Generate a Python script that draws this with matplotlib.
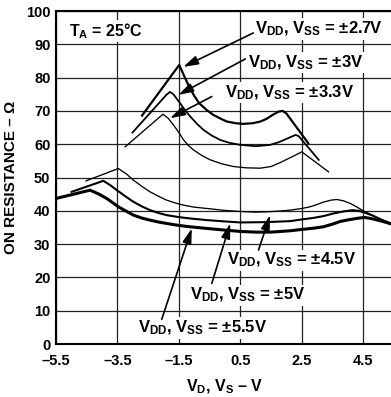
import matplotlib
matplotlib.use("Agg")
import matplotlib.pyplot as plt

plt.rcParams["font.family"] = ["Liberation Sans", "DejaVu Sans"]
plt.rcParams["font.weight"] = "bold"
plt.rcParams["mathtext.fontset"] = "custom"
plt.rcParams["mathtext.rm"] = "Liberation Sans:bold"
plt.rcParams["mathtext.it"] = "Liberation Sans:bold"
plt.rcParams["mathtext.bf"] = "Liberation Sans:bold"

# On resistance vs. source/drain voltage for each supply setting
x_27 = [-2.70, -1.49, -1.33, -1.17, -1.00, -0.84, -0.60, -0.38, -0.15, 0.06, 0.35, 0.60, 0.90,
        1.15, 1.35, 1.55, 1.75, 1.88, 2.00, 2.71]
y_27 = [68.6, 83.8, 80.5, 77.3, 74.5, 72.3, 70.3, 68.8, 67.7, 66.8, 66.3, 66.1, 66.3,
        66.8, 67.6, 68.8, 69.8, 70.0, 69.2, 60.3]

x_30 = [-3.01, -1.90, -1.79, -1.68, -1.46, -1.30, -1.13, -0.90, -0.70, -0.45, -0.16, 0.15, 0.50,
        1.00, 1.47, 1.75, 2.00, 2.30, 2.40, 3.05]
y_30 = [63.5, 74.9, 75.7, 75.0, 72.3, 70.2, 68.3, 66.0, 64.3, 62.7, 61.3, 60.4, 59.8,
        59.4, 59.8, 60.6, 61.6, 62.8, 62.4, 55.3]

x_33 = [-3.25, -2.02, -1.85, -1.68, -1.50, -1.35, -1.20, -1.03, -0.75, -0.48, -0.10, 0.27, 0.70,
        1.15, 1.50, 1.80, 2.20, 2.50, 3.37]
y_33 = [59.2, 69.0, 67.8, 65.8, 63.5, 61.3, 59.7, 58.3, 56.6, 55.3, 54.1, 53.3, 52.9,
        52.8, 53.3, 54.5, 56.3, 57.7, 51.7]

x_45 = [-4.52, -3.47, -3.20, -2.98, -2.70, -2.44, -2.15, -1.90, -1.60, -1.35, -1.00, -0.59, 0.00,
        0.50, 1.00, 1.36, 1.75, 2.12, 2.50, 2.77, 3.00, 3.20, 3.45, 3.64, 3.85, 4.08, 4.30, 4.46,
        4.80, 5.10, 5.50]
y_45 = [49.0, 52.7, 51.0, 49.2, 47.3, 45.7, 44.3, 43.2, 42.3, 41.7, 41.1, 40.7, 40.1,
        39.8, 39.6, 39.7, 39.9, 40.2, 40.7, 41.2, 41.9, 42.6, 43.2, 43.4, 43.0, 42.2, 41.1, 40.2,
        38.6, 37.3, 35.8]

x_50 = [-4.99, -3.96, -3.75, -3.52, -3.25, -2.98, -2.70, -2.44, -2.15, -1.90, -1.50, -1.14, -0.59,
        0.00, 0.50, 1.36, 2.12, 2.50, 2.90, 3.20, 3.53, 3.85, 4.15, 4.35, 4.50, 4.80, 5.10, 5.50]
y_50 = [45.7, 49.0, 47.8, 46.2, 44.4, 42.7, 41.3, 40.2, 39.3, 38.7, 38.1, 37.7, 37.2,
        36.8, 36.5, 36.6, 36.9, 37.4, 37.9, 38.4, 39.2, 39.8, 40.2, 40.0, 39.6, 38.6, 37.3, 35.8]

x_55 = [-5.50, -4.39, -4.10, -3.85, -3.65, -3.47, -3.20, -2.98, -2.70, -2.44, -2.15, -1.90, -1.50,
        -1.14, -0.59, 0.00, 0.50, 1.00, 1.50, 2.12, 2.50, 2.90, 3.20, 3.50, 3.75, 4.08, 4.35, 4.55,
        4.80, 5.10, 5.50]
y_55 = [43.7, 46.2, 45.0, 43.7, 42.4, 41.2, 39.8, 38.7, 37.8, 37.2, 36.6, 36.2, 35.6,
        35.2, 34.7, 34.2, 33.8, 33.6, 33.6, 34.0, 34.4, 34.8, 35.2, 36.0, 36.8, 37.4, 37.8, 38.0,
        37.6, 36.9, 35.8]

x_ticks = [-5.5, -3.5, -1.5, 0.5, 2.5, 4.5]
x_ticklabels = ["–5.5", "–3.5", "–1.5", "0.5", "2.5", "4.5"]
y_ticks = [0, 10, 20, 30, 40, 50, 60, 70, 80, 90, 100]

# label text, text anchor (left, middle), arrow start, arrow tip
vdd = r"$\mathbf{V_{DD}}$, $\mathbf{V_{SS}}$"
labels = [
    (vdd + " = ±2.7V", (0.98, 94.6), (0.92, 93.4), (-1.36, 83.2)),
    (vdd + " = ±3V", (0.75, 84.4), (0.66, 85.6), (-1.52, 74.8)),
    (vdd + " = ±3.3V", (0.00, 75.4), (-0.43, 74.3), (-1.79, 67.8)),
    (vdd + " = ±4.5V", (0.07, 25.2), (1.09, 28.2), (1.47, 38.7)),
    (vdd + " = ±5V", (-1.14, 14.7), (-0.43, 18.2), (0.17, 36.2)),
    (vdd + " = ±5.5V", (-2.83, 4.8), (-2.06, 7.4), (-1.08, 34.7)),
]

fig = plt.figure(figsize=(3.91, 3.97), dpi=100)
ax = fig.add_axes([56 / 391, 53 / 397, 338 / 391, 333 / 397])

ax.plot(x_27, y_27, color="black", lw=1.6, zorder=3)
ax.plot(x_30, y_30, color="black", lw=1.3, zorder=3)
ax.plot(x_33, y_33, color="black", lw=0.95, zorder=3)
ax.plot(x_45, y_45, color="black", lw=0.95, zorder=3)
ax.plot(x_50, y_50, color="black", lw=1.5, zorder=3)
ax.plot(x_55, y_55, color="black", lw=2.2, zorder=3)

ax.set_xlim(-5.5, 5.5)
ax.set_ylim(0, 100)
ax.set_xticks(x_ticks)
ax.set_xticklabels(x_ticklabels)
ax.set_yticks(y_ticks)
ax.tick_params(length=0, labelsize=10.5)
ax.tick_params(axis="x", pad=7)
ax.tick_params(axis="y", pad=4)
ax.grid(True, color="#222222", lw=0.9)
ax.set_axisbelow(True)
for side in ["left", "top", "bottom"]:
    ax.spines[side].set_linewidth(1.5)
ax.spines["right"].set_visible(False)

ax.set_xlabel(r"$\mathbf{V_D}$, $\mathbf{V_S}$ – V", fontsize=11.5, fontweight="bold", labelpad=7)
ax.set_ylabel("ON RESISTANCE – Ω", fontsize=11, fontweight="bold", labelpad=6)

ax.text(-5.08, 94, r"$\mathbf{T_A}$ = 25°C", fontsize=11.5, fontweight="bold", va="center",
        ha="left", bbox=dict(facecolor="white", edgecolor="none", pad=1), zorder=4)

for text, pos, start, tip in labels:
    ax.text(pos[0], pos[1], text, fontsize=12, fontweight="bold", va="center", ha="left",
            bbox=dict(facecolor="white", edgecolor="none", pad=1), zorder=4)
    ax.annotate("", xy=tip, xytext=start,
                arrowprops=dict(arrowstyle="-|>,head_length=0.6,head_width=0.18",
                                mutation_scale=15, color="black", lw=1.2,
                                shrinkA=0, shrinkB=0),
                zorder=5)

fig.savefig("out.png", dpi=100)
